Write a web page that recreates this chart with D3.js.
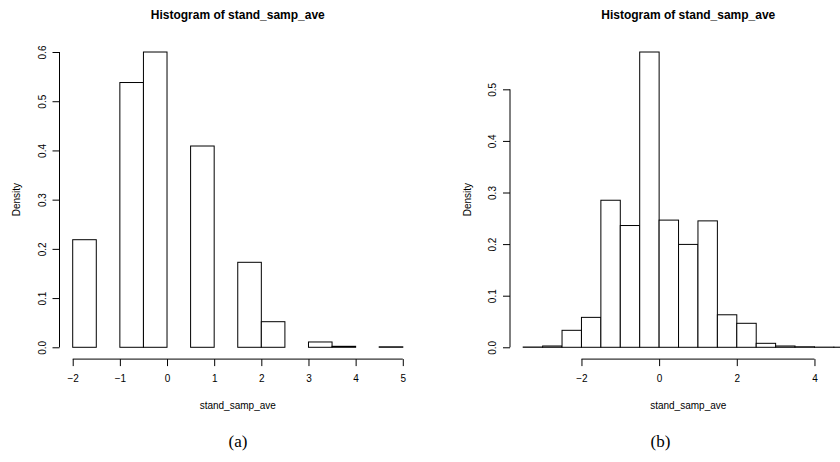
<!DOCTYPE html>
<html>
<head>
<meta charset="utf-8">
<script src="https://cdn.jsdelivr.net/npm/d3@7"></script>
<style>
  html, body { margin: 0; padding: 0; background: #fff; }
  svg { display: block; }
  text { fill: #000; }
</style>
</head>
<body>
<svg id="chart" width="840" height="462"></svg>
<script>
// Panel (a): histogram densities, bin width 0.5 from -2 to 5
const binStartsA = [-2, -1.5, -1, -0.5, 0, 0.5, 1, 1.5, 2, 2.5, 3, 3.5, 4, 4.5];
const densityA   = [0.2186, 0, 0.538, 0.600, 0, 0.409, 0, 0.1727, 0.052, 0, 0.0108, 0.002, 0, 0.001];
const xTicksA    = [-2, -1, 0, 1, 2, 3, 4, 5];
const yTicksA    = [0, 0.1, 0.2, 0.3, 0.4, 0.5, 0.6];

// Panel (b): histogram densities, bin width 0.5 from -3.5 to 5
const binStartsB = [-3.5, -3, -2.5, -2, -1.5, -1, -0.5, 0, 0.5, 1, 1.5, 2, 2.5, 3, 3.5, 4, 4.5];
const densityB   = [0.0005, 0.0025, 0.0329, 0.058, 0.285, 0.236, 0.5723, 0.2465, 0.1994, 0.245, 0.063, 0.0465, 0.0077, 0.0025, 0.001, 0.0003, 0.0002];
const xTicksB    = [-2, 0, 2, 4];
const yTicksB    = [0, 0.1, 0.2, 0.3, 0.4, 0.5];

const binWidth = 0.5;
const mainTitle = "Histogram of stand_samp_ave";
const xLabel = "stand_samp_ave";
const yLabel = "Density";

const svg = d3.select("#chart");
const sans = "'Liberation Sans', Arial, Helvetica, sans-serif";
const serif = "'Liberation Serif', 'Times New Roman', serif";

// plot region inside each panel
const plot = { left: 59.5, right: 416, top: 40.2, bottom: 359.1 };
const fmtTick = d => (d < 0 ? "\u2212" + Math.abs(d) : String(d));

function drawPanel(offsetX, starts, dens, xTicks, yTicks, caption) {
  const g = svg.append("g").attr("transform", `translate(${offsetX},0)`);

  const xMin = d3.min(starts), xMax = d3.max(starts) + binWidth;
  const xPad = 0.04 * (xMax - xMin);
  const x = d3.scaleLinear()
    .domain([xMin - xPad, xMax + xPad])
    .range([plot.left, plot.right]);

  const yMax = d3.max(dens);
  const y = d3.scaleLinear()
    .domain([-0.04 * yMax, 1.04 * yMax])
    .range([plot.bottom, plot.top]);

  const bins = starts.map((s, i) => ({ x0: s, x1: s + binWidth, d: dens[i] }));

  // bars
  g.append("g").selectAll("rect")
    .data(bins)
    .join("rect")
    .attr("x", d => x(d.x0))
    .attr("y", d => y(d.d))
    .attr("width", d => x(d.x1) - x(d.x0))
    .attr("height", d => y(0) - y(d.d))
    .attr("fill", "#fff")
    .attr("stroke", "#000")
    .attr("stroke-width", 1);

  // x axis (drawn along the bottom of the plot region)
  const xAxis = d3.axisBottom(x)
    .tickValues(xTicks)
    .tickSize(7)
    .tickPadding(0)
    .tickFormat(fmtTick)
    .tickSizeOuter(0);
  const gx = g.append("g")
    .attr("transform", `translate(0,${plot.bottom})`)
    .call(xAxis);
  gx.select(".domain").attr("d", `M${x(xTicks[0])},0H${x(xTicks[xTicks.length - 1])}`)
    .attr("stroke", "#000");
  gx.selectAll(".tick line").attr("stroke", "#000");
  gx.selectAll(".tick text")
    .attr("y", 23)
    .attr("dy", null)
    .style("font-family", sans)
    .style("font-size", "10px");

  // y axis (drawn along the left of the plot region)
  const yAxis = d3.axisLeft(y)
    .tickValues(yTicks)
    .tickSize(7)
    .tickFormat(d3.format(".1f"))
    .tickSizeOuter(0);
  const gy = g.append("g")
    .attr("transform", `translate(${plot.left},0)`)
    .call(yAxis);
  gy.select(".domain").attr("d", `M0,${y(yTicks[0])}V${y(yTicks[yTicks.length - 1])}`)
    .attr("stroke", "#000");
  gy.selectAll(".tick line").attr("stroke", "#000");
  gy.selectAll(".tick text")
    .attr("x", null).attr("dy", null)
    .attr("text-anchor", "middle")
    .attr("transform", `translate(-14,0) rotate(-90)`)
    .style("font-family", sans)
    .style("font-size", "10px");

  const cx = (plot.left + plot.right) / 2;
  const cy = (plot.top + plot.bottom) / 2;

  g.append("text")
    .attr("x", cx).attr("y", 18.7)
    .attr("text-anchor", "middle")
    .style("font-family", sans)
    .style("font-size", "12px")
    .style("font-weight", "bold")
    .text(mainTitle);

  g.append("text")
    .attr("x", cx).attr("y", 409)
    .attr("text-anchor", "middle")
    .style("font-family", sans)
    .style("font-size", "10px")
    .text(xLabel);

  g.append("text")
    .attr("transform", `translate(20,${cy}) rotate(-90)`)
    .attr("text-anchor", "middle")
    .style("font-family", sans)
    .style("font-size", "10px")
    .text(yLabel);

  g.append("text")
    .attr("x", caption.x).attr("y", 447)
    .attr("text-anchor", "middle")
    .style("font-family", serif)
    .style("font-size", "17px")
    .text(caption.label);
}

drawPanel(0, binStartsA, densityA, xTicksA, yTicksA, { label: "(a)", x: 238 });
drawPanel(450.5, binStartsB, densityB, xTicksB, yTicksB, { label: "(b)", x: 210 });
</script>
</body>
</html>
